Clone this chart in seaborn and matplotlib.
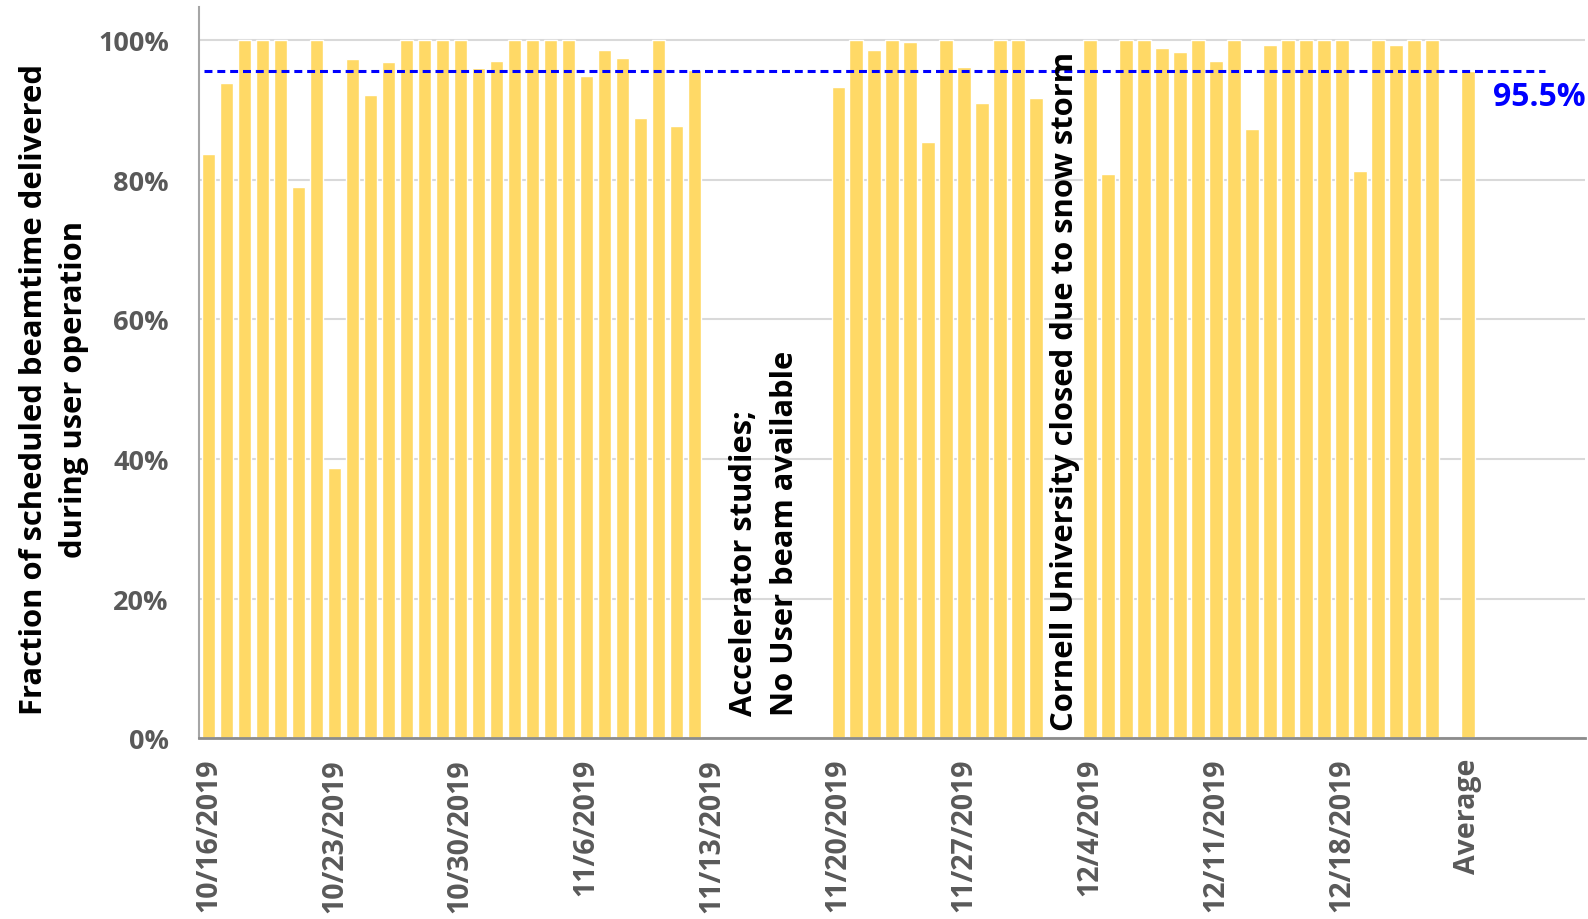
import numpy as np
import pandas as pd
import matplotlib
matplotlib.use("Agg")
import matplotlib.pyplot as plt
import seaborn as sns
from matplotlib.ticker import PercentFormatter

# Daily fraction of scheduled beamtime delivered, 10/16/2019 .. 12/24/2019
# (nan = no user operation that day)
start_date = "2019-10-16"
daily_fraction = [
    0.837, 0.938, 1.000, 1.000, 1.000, 0.789, 1.000, 0.387, 0.972, 0.921,
    0.968, 1.000, 1.000, 1.000, 1.000, 0.960, 0.969, 1.000, 1.000, 1.000,
    1.000, 0.948, 0.986, 0.974, 0.888, 1.000, 0.876, 0.957, np.nan, np.nan,
    np.nan, np.nan, np.nan, np.nan, np.nan, 0.932, 1.000, 0.986, 1.000, 0.997,
    0.854, 1.000, 0.961, 0.909, 1.000, 1.000, 0.917, np.nan, np.nan, 1.000,
    0.808, 1.000, 1.000, 0.989, 0.982, 1.000, 0.969, 1.000, 0.872, 0.993,
    1.000, 1.000, 1.000, 1.000, 0.812, 1.000, 0.993, 1.000, 1.000, np.nan,
]
average_label = "Average"
average_fraction = 0.955
extra_slots = 6          # empty categories after the average bar
label_every = 7

dates = pd.date_range(start_date, periods=len(daily_fraction), freq="D")
date_labels = [f"{d.month}/{d.day}/{d.year}" for d in dates]
categories = date_labels + [average_label]
values = daily_fraction + [average_fraction]

df = pd.DataFrame({"day": categories, "fraction": values}).dropna()

sns.set_theme(style="white")
plt.rcParams["font.family"] = ["Open Sans", "DejaVu Sans"]
plt.rcParams["font.weight"] = "bold"

fig = plt.figure(figsize=(15.88, 9.2), dpi=100)
ax = fig.add_axes([0.1256, 0.1962, 0.8724, 0.7951])

bar_color = "#FFD966"
sns.barplot(data=df, x="day", y="fraction", order=categories, color=bar_color,
            saturation=1, width=0.74, errorbar=None, ax=ax, zorder=2)

n_total = len(categories) + extra_slots
ax.set_xlim(-0.5, n_total - 0.5)
ax.set_ylim(0, 1.047)

# grid and spines
ax.set_yticks(np.arange(0, 1.01, 0.2))
ax.yaxis.set_major_formatter(PercentFormatter(1.0, decimals=0))
ax.grid(axis="y", color="#d9d9d9", linewidth=1.5, zorder=0)
ax.set_axisbelow(True)
for side in ["top", "right"]:
    ax.spines[side].set_visible(False)
ax.spines["left"].set_color("#a6a6a6")
ax.spines["left"].set_linewidth(1.5)
ax.spines["bottom"].set_color("#8c8c8c")
ax.spines["bottom"].set_linewidth(2)

tick_pos = list(range(0, len(categories), label_every))
ax.set_xticks(tick_pos)
ax.set_xticklabels([categories[i] for i in tick_pos], rotation=90,
                   fontsize=20.5, fontweight="bold", color="#595959")
ax.tick_params(axis="x", length=0, pad=14)
ax.tick_params(axis="y", length=0, pad=22, labelsize=19.5, labelcolor="#595959")
for t in ax.get_yticklabels():
    t.set_fontweight("bold")

ax.set_xlabel("")
ax.set_ylabel("Fraction of scheduled beamtime delivered\nduring user operation",
              fontsize=22.3, fontweight="bold", color="black", linespacing=1.45)
ax.yaxis.set_label_coords(-0.105, 0.478)
ax.yaxis.label.set_verticalalignment("center")

# average reference line
line_start = -0.25
line_end = 74.3
ax.axhline(average_fraction,
           xmin=(line_start + 0.5) / n_total, xmax=(line_end + 0.5) / n_total,
           color="#0000ff", linewidth=2.2, dashes=(2.6, 1.6), zorder=3)
ax.text(n_total - 0.45, 0.919, f"{average_fraction * 100:.1f}%", color="#0000ff",
        fontsize=23, fontweight="bold", ha="right", va="center")

# notes on the missing days
ax.text(30.9, 0.034, "Accelerator studies;\nNo User beam available",
        rotation=90, ha="center", va="bottom", multialignment="left",
        fontsize=22.2, fontweight="bold", color="black", linespacing=1.45)
ax.text(47.6, 0.012, "Cornell University closed due to snow storm",
        rotation=90, ha="center", va="bottom",
        fontsize=22.3, fontweight="bold", color="black")

fig.savefig("out.png", dpi=100)
